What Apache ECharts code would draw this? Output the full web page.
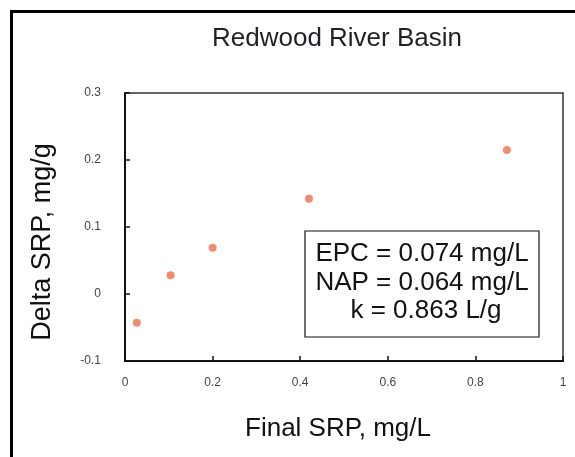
<!DOCTYPE html>
<html>
<head>
<meta charset="utf-8">
<script src="https://cdn.jsdelivr.net/npm/echarts@6/dist/echarts.min.js"></script>
<style>
html,body{margin:0;padding:0;background:#fff;}
#chart{width:575px;height:457px;}
</style>
</head>
<body>
<div id="chart"></div>
<script>
// Data
var finalSRP = [0.027, 0.104, 0.200, 0.420, 0.872];   // mg/L
var deltaSRP = [-0.043, 0.028, 0.069, 0.142, 0.215];  // mg/g
var xTicks = [0, 0.2, 0.4, 0.6, 0.8, 1];
var yTicks = [-0.1, 0, 0.1, 0.2, 0.3];
var annotationLines = ['EPC = 0.074 mg/L', 'NAP = 0.064 mg/L', 'k = 0.863 L/g'];
var titleText = 'Redwood River Basin';
var xName = 'Final SRP, mg/L';
var yName = 'Delta SRP, mg/g';

var points = finalSRP.map(function (x, i) { return [x, deltaSRP[i]]; });
var FONT = 'Liberation Sans, Arial, sans-serif';

var chart = echarts.init(document.getElementById('chart'), null, {renderer: 'canvas'});
var option = {
  backgroundColor: '#ffffff',
  animation: false,
  title: {
    text: titleText,
    left: 332,
    top: 21,
    textAlign: 'center',
    textStyle: {fontFamily: FONT, fontSize: 26, fontWeight: 'normal', color: '#1e2226'}
  },
  grid: {
    left: 125, top: 93, right: 12, bottom: 96,
    show: true, borderColor: '#333', borderWidth: 1.5, backgroundColor: 'transparent'
  },
  xAxis: {
    type: 'value', min: 0, max: 1, interval: 0.2,
    name: xName, nameLocation: 'middle', nameGap: 55,
    nameTextStyle: {fontFamily: FONT, fontSize: 26, color: '#111', padding: [0, 12, 0, 0]},
    axisLine: {show: true, onZero: false, lineStyle: {color: '#111', width: 2}},
    axisTick: {show: true, inside: true, length: 5, lineStyle: {color: '#111', width: 1.5}},
    axisLabel: {
      fontFamily: FONT, fontSize: 12, color: '#444', margin: 16,
      formatter: function (v) { var r = Math.round(v * 10) / 10; return xTicks.indexOf(r) >= 0 ? String(r) : ''; }
    },
    splitLine: {show: false}
  },
  yAxis: {
    type: 'value', min: -0.1, max: 0.3, interval: 0.1,
    name: yName, nameLocation: 'middle', nameGap: 69,
    nameTextStyle: {fontFamily: FONT, fontSize: 27, color: '#111', padding: [0, 30, 0, 0]},
    axisLine: {show: true, onZero: false, lineStyle: {color: '#111', width: 2}},
    axisTick: {show: true, inside: true, length: 5, lineStyle: {color: '#111', width: 1.5}},
    axisLabel: {
      fontFamily: FONT, fontSize: 12, color: '#444', margin: 24,
      formatter: function (v) { var r = Math.round(v * 10) / 10; return yTicks.indexOf(r) >= 0 ? String(r) : ''; }
    },
    splitLine: {show: false}
  },
  series: [{
    type: 'scatter',
    data: points,
    symbol: 'circle',
    symbolSize: 8,
    itemStyle: {color: '#e8704f'},
    z: 5
  }],
  graphic: [
    {
      type: 'rect', left: 9, top: 9, z: 0, silent: true,
      shape: {width: 700, height: 700},
      style: {fill: 'none', stroke: '#000', lineWidth: 3}
    },
    {
      type: 'rect', z: 10, silent: true,
      shape: {x: 305, y: 231, width: 234, height: 106},
      style: {fill: '#fff', stroke: '#111', lineWidth: 1.2}
    },
    {
      type: 'text', z: 11, silent: true, x: 422, y: 254,
      style: {text: annotationLines[0], font: '26px ' + FONT, fill: '#111', textAlign: 'center', textVerticalAlign: 'middle'}
    },
    {
      type: 'text', z: 11, silent: true, x: 422, y: 283,
      style: {text: annotationLines[1], font: '26px ' + FONT, fill: '#111', textAlign: 'center', textVerticalAlign: 'middle'}
    },
    {
      type: 'text', z: 11, silent: true, x: 426, y: 311,
      style: {text: annotationLines[2], font: '26px ' + FONT, fill: '#111', textAlign: 'center', textVerticalAlign: 'middle'}
    }
  ]
};
chart.setOption(option);
</script>
</body>
</html>
